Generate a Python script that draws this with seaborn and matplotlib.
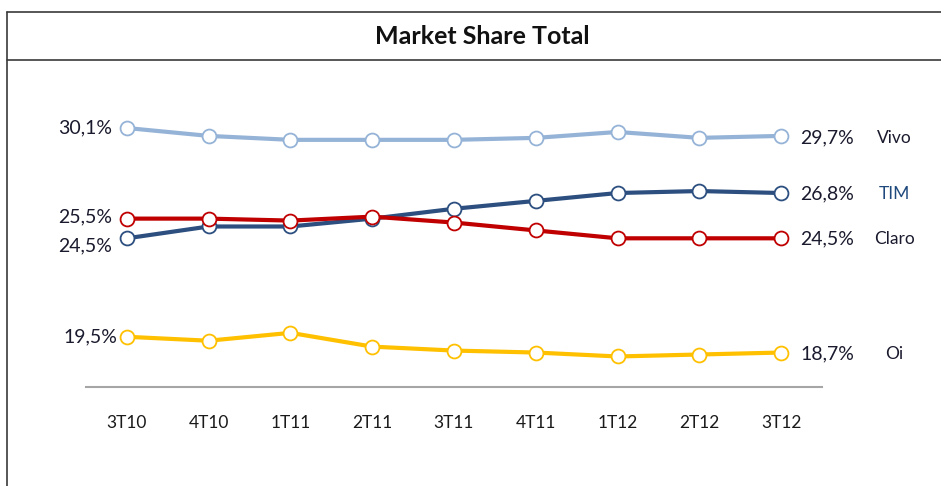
import pandas as pd
import matplotlib
matplotlib.use("Agg")
import matplotlib.pyplot as plt
import seaborn as sns
from matplotlib.lines import Line2D

# data
quarters = ['3T10', '4T10', '1T11', '2T11', '3T11', '4T11', '1T12', '2T12', '3T12']
vivo = [30.1, 29.7, 29.5, 29.5, 29.5, 29.6, 29.9, 29.6, 29.7]
tim = [24.5, 25.1, 25.1, 25.5, 26.0, 26.4, 26.8, 26.9, 26.8]
claro = [25.5, 25.5, 25.4, 25.6, 25.3, 24.9, 24.5, 24.5, 24.5]
oi = [19.5, 19.3, 19.7, 19.0, 18.8, 18.7, 18.5, 18.6, 18.7]

operators = ['Vivo', 'TIM', 'Claro', 'Oi']
colors = {'Vivo': '#95B3D7', 'TIM': '#2C4F80', 'Claro': '#C00000', 'Oi': '#FFC000'}

df = pd.DataFrame({'Trimestre': quarters * 4,
                   'Operadora': [o for o in operators for _ in quarters],
                   'Share': vivo + tim + claro + oi})
df['x'] = df.groupby('Operadora').cumcount()

sns.set_style('white')
plt.rcParams['font.family'] = ['Lato', 'DejaVu Sans']

fig = plt.figure(figsize=(9.41, 4.86), dpi=100)
ax = fig.add_axes([86 / 941, 1 - 387 / 486, 736 / 941, (387 - 110.3) / 486])

#one line per operator so the marker edge takes the line colour
for op in operators:
    sns.lineplot(data=df[df['Operadora'] == op], x='x', y='Share',
                 color=colors[op], linewidth=3, marker='o', markersize=10,
                 markerfacecolor='white', markeredgecolor=colors[op],
                 markeredgewidth=1.3, ax=ax, legend=False)

ax.set_xlim(-0.5, 8.5)
ax.set_ylim(16.95, 31.0)
ax.set_xticks(range(len(quarters)))
ax.set_xticklabels(quarters, fontsize=12.5, color='#1a1a1a')
ax.set_yticks([])
ax.set_xlabel('')
ax.set_ylabel('')
ax.tick_params(axis='x', length=0, pad=20)
for s in ['top', 'right', 'left']:
    ax.spines[s].set_visible(False)
ax.spines['bottom'].set_color('#A6A6A6')
ax.spines['bottom'].set_linewidth(1.5)

txt = '#1a1a2e'
first = {'Vivo': vivo[0], 'TIM': tim[0], 'Claro': claro[0], 'Oi': oi[0]}
last = {'Vivo': vivo[-1], 'TIM': tim[-1], 'Claro': claro[-1], 'Oi': oi[-1]}
left_off = {'Vivo': (-15, 0), 'TIM': (-15, -8), 'Claro': (-15, 2), 'Oi': (-10, 0)}
right_off = {'Vivo': -2, 'TIM': -1, 'Claro': -1, 'Oi': -1}
for op in operators:
    ax.annotate(f"{first[op]:.1f}%".replace('.', ','), (0, first[op]),
                xytext=left_off[op], textcoords='offset pixels',
                ha='right', va='center', fontsize=14, color=txt)
    ax.annotate(f"{last[op]:.1f}%".replace('.', ','), (8, last[op]),
                xytext=(19, right_off[op]), textcoords='offset pixels',
                ha='left', va='center', fontsize=14, color=txt)
    ax.annotate(op, (8, last[op]), xytext=(113, right_off[op]), textcoords='offset pixels',
                ha='center', va='center', fontsize=12.5,
                color='#1F497D' if op == 'TIM' else txt)

# frame around the chart and title
lc = '#3a3a3a'
fig.add_artist(Line2D([7 / 941, 7 / 941], [0, 1 - 12 / 486], color=lc, lw=1.2))
fig.add_artist(Line2D([7 / 941, 1], [1 - 12 / 486, 1 - 12 / 486], color=lc, lw=1.2))
fig.add_artist(Line2D([7 / 941, 1], [1 - 60 / 486, 1 - 60 / 486], color=lc, lw=1.2))
fig.text(482 / 941, 1 - 37 / 486, 'Market Share Total', ha='center', va='center',
         fontsize=18, fontweight='bold', color='#111111')

fig.savefig('out.png', dpi=100)
